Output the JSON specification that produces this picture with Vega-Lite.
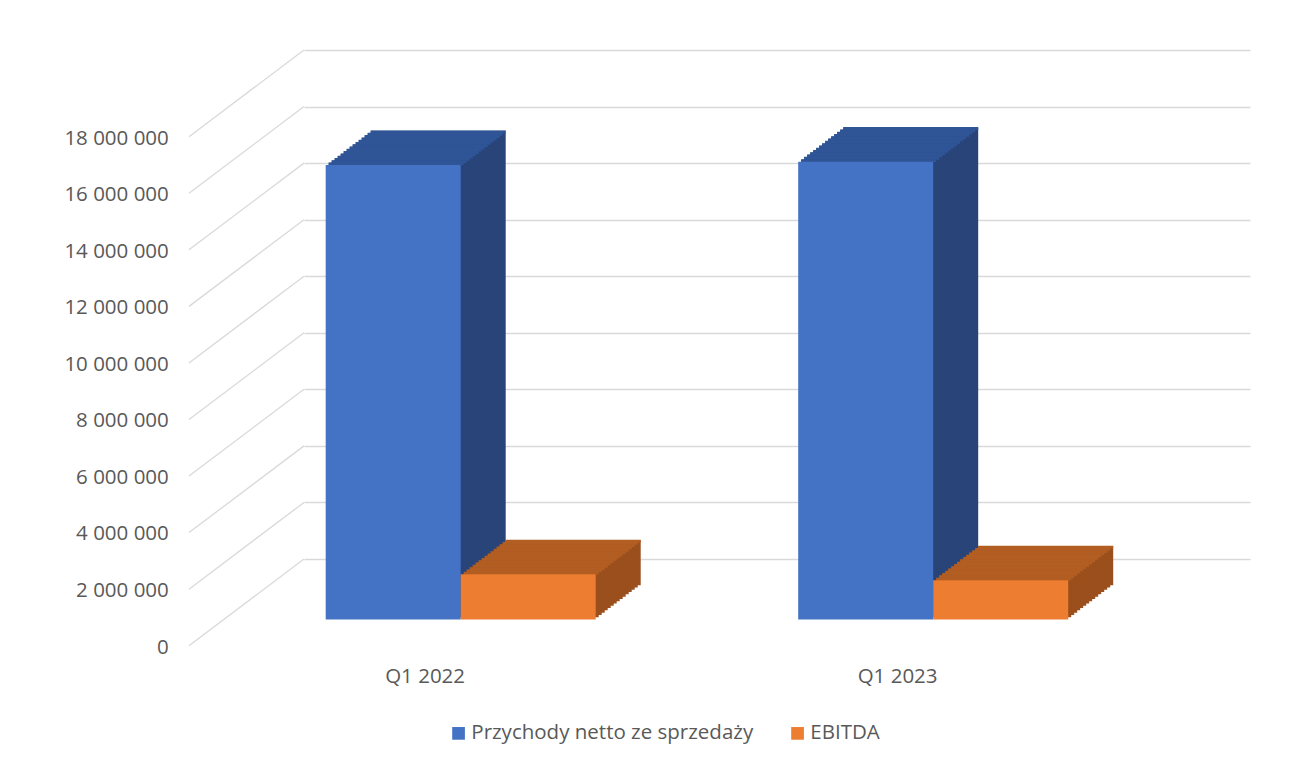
{
  "$schema": "https://vega.github.io/schema/vega-lite/v6.json",
  "autosize": {"type": "none"},
  "width": 946,
  "height": 509,
  "padding": {"left": 304, "top": 50, "right": 54, "bottom": 205},
  "background": "white",
  "config": {"view": {"stroke": null}, "font": "Open Sans"},
  "datasets": {
    "bars": [
      {"quarter": "Q1 2022", "series": "Przychody netto ze sprzedaży", "slot": "Q1 2022|P", "value": 16070000},
      {"quarter": "Q1 2022", "series": "EBITDA", "slot": "Q1 2022|E", "value": 1600000},
      {"quarter": "Q1 2023", "series": "Przychody netto ze sprzedaży", "slot": "Q1 2023|P", "value": 16190000},
      {"quarter": "Q1 2023", "series": "EBITDA", "slot": "Q1 2023|E", "value": 1390000}
    ],
    "grid": [
      {"tick": 0}, {"tick": 2000000}, {"tick": 4000000}, {"tick": 6000000}, {"tick": 8000000},
      {"tick": 10000000}, {"tick": 12000000}, {"tick": 14000000}, {"tick": 16000000}, {"tick": 18000000}
    ]
  },
  "layer": [
    {
      "data": {"name": "grid"},
      "mark": {"type": "point", "shape": "M-1,0.754L1,-0.754", "size": 13225, "filled": false, "stroke": "#d9d9d9", "strokeWidth": 1.3, "opacity": 1, "xOffset": -530.5, "yOffset": 43.35},
      "encoding": {
        "y": {"field": "tick", "type": "quantitative", "scale": {"domain": [0, 18000000], "nice": false, "zero": true},
          "axis": {"orient": "left", "values": [0, 2000000, 4000000, 6000000, 8000000, 10000000, 12000000, 14000000, 16000000, 18000000], "grid": true, "gridColor": "#d9d9d9", "gridWidth": 1.3, "domain": false, "ticks": false, "tickSize": 0, "labelPadding": 135.7, "labelOffset": 88, "labelFont": "Open Sans", "labelFontSize": 20.5, "labelColor": "#595959", "title": null, "labelExpr": "replace(format(datum.value, ','), regexp(',', 'g'), ' ')"}}
      }
    },
    {
      "data": {"name": "bars"},
      "encoding": {
        "x": {"field": "slot", "type": "nominal",
          "scale": {"domain": ["Q1 2022|P", "Q1 2022", "Q1 2022|E", "g1", "g2", "g3", "g4", "Q1 2023|P", "Q1 2023", "Q1 2023|E", "e1", "e2", "e3"], "paddingInner": 0, "paddingOuter": 0.5074, "align": 0.8095},
          "axis": {"values": ["Q1 2022", "Q1 2023"], "domain": false, "ticks": false, "tickSize": 0, "grid": false, "labelAngle": 0, "labelPadding": 107, "labelOffset": -35.6, "labelFont": "Open Sans", "labelFontSize": 20.5, "labelColor": "#595959", "title": null}},
        "y": {"field": "value", "type": "quantitative", "scale": {"domain": [0, 18000000], "nice": false, "zero": true},
          "axis": {"orient": "left", "values": [0, 2000000, 4000000, 6000000, 8000000, 10000000, 12000000, 14000000, 16000000, 18000000], "grid": true, "gridColor": "#d9d9d9", "gridWidth": 1.3, "domain": false, "ticks": false, "tickSize": 0, "labelPadding": 135.7, "labelOffset": 88, "labelFont": "Open Sans", "labelFontSize": 20.5, "labelColor": "#595959", "title": null, "labelExpr": "replace(format(datum.value, ','), regexp(',', 'g'), ' ')"}}
      },
      "layer": [
        {"mark": {"type": "bar", "width": 135, "xOffset": 45, "x2Offset": 45, "yOffset": 26.2, "y2Offset": 26.2}, "encoding": {"color": {"condition": {"test": "datum.series === 'EBITDA'", "value": "#9A4F1C"}, "value": "#284479"}}},
        {"mark": {"type": "bar", "width": 135, "xOffset": 42, "x2Offset": 42, "yOffset": 28.49, "y2Offset": 28.49}, "encoding": {"color": {"condition": {"test": "datum.series === 'EBITDA'", "value": "#9A4F1C"}, "value": "#284479"}}},
        {"mark": {"type": "bar", "width": 135, "xOffset": 39, "x2Offset": 39, "yOffset": 30.77, "y2Offset": 30.77}, "encoding": {"color": {"condition": {"test": "datum.series === 'EBITDA'", "value": "#9A4F1C"}, "value": "#284479"}}},
        {"mark": {"type": "bar", "width": 135, "xOffset": 36, "x2Offset": 36, "yOffset": 33.06, "y2Offset": 33.06}, "encoding": {"color": {"condition": {"test": "datum.series === 'EBITDA'", "value": "#9A4F1C"}, "value": "#284479"}}},
        {"mark": {"type": "bar", "width": 135, "xOffset": 33, "x2Offset": 33, "yOffset": 35.35, "y2Offset": 35.35}, "encoding": {"color": {"condition": {"test": "datum.series === 'EBITDA'", "value": "#9A4F1C"}, "value": "#284479"}}},
        {"mark": {"type": "bar", "width": 135, "xOffset": 30, "x2Offset": 30, "yOffset": 37.63, "y2Offset": 37.63}, "encoding": {"color": {"condition": {"test": "datum.series === 'EBITDA'", "value": "#9A4F1C"}, "value": "#284479"}}},
        {"mark": {"type": "bar", "width": 135, "xOffset": 27, "x2Offset": 27, "yOffset": 39.92, "y2Offset": 39.92}, "encoding": {"color": {"condition": {"test": "datum.series === 'EBITDA'", "value": "#9A4F1C"}, "value": "#284479"}}},
        {"mark": {"type": "bar", "width": 135, "xOffset": 24, "x2Offset": 24, "yOffset": 42.21, "y2Offset": 42.21}, "encoding": {"color": {"condition": {"test": "datum.series === 'EBITDA'", "value": "#9A4F1C"}, "value": "#284479"}}},
        {"mark": {"type": "bar", "width": 135, "xOffset": 21, "x2Offset": 21, "yOffset": 44.49, "y2Offset": 44.49}, "encoding": {"color": {"condition": {"test": "datum.series === 'EBITDA'", "value": "#9A4F1C"}, "value": "#284479"}}},
        {"mark": {"type": "bar", "width": 135, "xOffset": 18, "x2Offset": 18, "yOffset": 46.78, "y2Offset": 46.78}, "encoding": {"color": {"condition": {"test": "datum.series === 'EBITDA'", "value": "#9A4F1C"}, "value": "#284479"}}},
        {"mark": {"type": "bar", "width": 135, "xOffset": 15, "x2Offset": 15, "yOffset": 49.07, "y2Offset": 49.07}, "encoding": {"color": {"condition": {"test": "datum.series === 'EBITDA'", "value": "#9A4F1C"}, "value": "#284479"}}},
        {"mark": {"type": "bar", "width": 135, "xOffset": 12, "x2Offset": 12, "yOffset": 51.35, "y2Offset": 51.35}, "encoding": {"color": {"condition": {"test": "datum.series === 'EBITDA'", "value": "#9A4F1C"}, "value": "#284479"}}},
        {"mark": {"type": "bar", "width": 135, "xOffset": 9, "x2Offset": 9, "yOffset": 53.64, "y2Offset": 53.64}, "encoding": {"color": {"condition": {"test": "datum.series === 'EBITDA'", "value": "#9A4F1C"}, "value": "#284479"}}},
        {"mark": {"type": "bar", "width": 135, "xOffset": 6, "x2Offset": 6, "yOffset": 55.93, "y2Offset": 55.93}, "encoding": {"color": {"condition": {"test": "datum.series === 'EBITDA'", "value": "#9A4F1C"}, "value": "#284479"}}},
        {"mark": {"type": "bar", "width": 135, "xOffset": 3, "x2Offset": 3, "yOffset": 58.21, "y2Offset": 58.21}, "encoding": {"color": {"condition": {"test": "datum.series === 'EBITDA'", "value": "#9A4F1C"}, "value": "#284479"}}},
        {"mark": {"type": "tick", "size": 135, "thickness": 2.8, "opacity": 1, "xOffset": 45, "yOffset": 27.34}, "encoding": {"color": {"condition": {"test": "datum.series === 'EBITDA'", "value": "#B25D22"}, "value": "#2F5597"}}},
        {"mark": {"type": "tick", "size": 135, "thickness": 2.8, "opacity": 1, "xOffset": 42, "yOffset": 29.63}, "encoding": {"color": {"condition": {"test": "datum.series === 'EBITDA'", "value": "#B25D22"}, "value": "#2F5597"}}},
        {"mark": {"type": "tick", "size": 135, "thickness": 2.8, "opacity": 1, "xOffset": 39, "yOffset": 31.92}, "encoding": {"color": {"condition": {"test": "datum.series === 'EBITDA'", "value": "#B25D22"}, "value": "#2F5597"}}},
        {"mark": {"type": "tick", "size": 135, "thickness": 2.8, "opacity": 1, "xOffset": 36, "yOffset": 34.2}, "encoding": {"color": {"condition": {"test": "datum.series === 'EBITDA'", "value": "#B25D22"}, "value": "#2F5597"}}},
        {"mark": {"type": "tick", "size": 135, "thickness": 2.8, "opacity": 1, "xOffset": 33, "yOffset": 36.49}, "encoding": {"color": {"condition": {"test": "datum.series === 'EBITDA'", "value": "#B25D22"}, "value": "#2F5597"}}},
        {"mark": {"type": "tick", "size": 135, "thickness": 2.8, "opacity": 1, "xOffset": 30, "yOffset": 38.78}, "encoding": {"color": {"condition": {"test": "datum.series === 'EBITDA'", "value": "#B25D22"}, "value": "#2F5597"}}},
        {"mark": {"type": "tick", "size": 135, "thickness": 2.8, "opacity": 1, "xOffset": 27, "yOffset": 41.06}, "encoding": {"color": {"condition": {"test": "datum.series === 'EBITDA'", "value": "#B25D22"}, "value": "#2F5597"}}},
        {"mark": {"type": "tick", "size": 135, "thickness": 2.8, "opacity": 1, "xOffset": 24, "yOffset": 43.35}, "encoding": {"color": {"condition": {"test": "datum.series === 'EBITDA'", "value": "#B25D22"}, "value": "#2F5597"}}},
        {"mark": {"type": "tick", "size": 135, "thickness": 2.8, "opacity": 1, "xOffset": 21, "yOffset": 45.64}, "encoding": {"color": {"condition": {"test": "datum.series === 'EBITDA'", "value": "#B25D22"}, "value": "#2F5597"}}},
        {"mark": {"type": "tick", "size": 135, "thickness": 2.8, "opacity": 1, "xOffset": 18, "yOffset": 47.92}, "encoding": {"color": {"condition": {"test": "datum.series === 'EBITDA'", "value": "#B25D22"}, "value": "#2F5597"}}},
        {"mark": {"type": "tick", "size": 135, "thickness": 2.8, "opacity": 1, "xOffset": 15, "yOffset": 50.21}, "encoding": {"color": {"condition": {"test": "datum.series === 'EBITDA'", "value": "#B25D22"}, "value": "#2F5597"}}},
        {"mark": {"type": "tick", "size": 135, "thickness": 2.8, "opacity": 1, "xOffset": 12, "yOffset": 52.5}, "encoding": {"color": {"condition": {"test": "datum.series === 'EBITDA'", "value": "#B25D22"}, "value": "#2F5597"}}},
        {"mark": {"type": "tick", "size": 135, "thickness": 2.8, "opacity": 1, "xOffset": 9, "yOffset": 54.78}, "encoding": {"color": {"condition": {"test": "datum.series === 'EBITDA'", "value": "#B25D22"}, "value": "#2F5597"}}},
        {"mark": {"type": "tick", "size": 135, "thickness": 2.8, "opacity": 1, "xOffset": 6, "yOffset": 57.07}, "encoding": {"color": {"condition": {"test": "datum.series === 'EBITDA'", "value": "#B25D22"}, "value": "#2F5597"}}},
        {"mark": {"type": "tick", "size": 135, "thickness": 2.8, "opacity": 1, "xOffset": 3, "yOffset": 59.36}, "encoding": {"color": {"condition": {"test": "datum.series === 'EBITDA'", "value": "#B25D22"}, "value": "#2F5597"}}},
        {"mark": {"type": "bar", "width": 135, "xOffset": 0, "yOffset": 60.5, "y2Offset": 60.5},
          "encoding": {"color": {"field": "series", "type": "nominal",
            "scale": {"domain": ["Przychody netto ze sprzedaży", "EBITDA"], "range": ["#4472C4", "#ED7D31"]},
            "legend": {"orient": "none", "legendX": 144.3, "legendY": 673, "direction": "horizontal", "title": null, "symbolType": "square", "symbolSize": 161, "symbolStrokeWidth": 0, "labelFont": "Open Sans", "labelFontSize": 20.5, "labelColor": "#595959", "labelOffset": 2.5, "labelLimit": 0, "columnPadding": 34, "padding": 0}}}}
      ]
    }
  ]
}
